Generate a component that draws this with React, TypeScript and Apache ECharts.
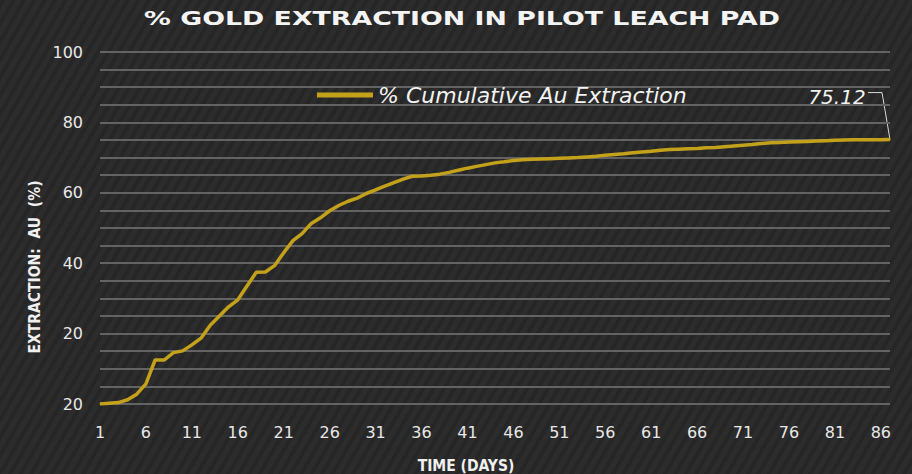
import React, { useEffect, useRef } from "react";
import * as echarts from "echarts";

const titleText = "% GOLD EXTRACTION IN PILOT LEACH PAD";
const seriesName = "% Cumulative Au Extraction";
const yAxisTitle = "EXTRACTION:  AU  (%)";
const xAxisTitle = "TIME (DAYS)";
const endAnnotation = "75.12";

const days: string[] = Array.from({ length: 87 }, (_, i) => String(i + 1));

const extraction: number[] = [
  0, 0.2, 0.4, 1.2, 2.8, 5.7, 12.5, 12.5, 14.6, 15.1,
  16.8, 18.7, 22.4, 25.0, 27.6, 29.6, 33.5, 37.4, 37.5, 39.3,
  43.0, 46.4, 48.4, 51.3, 52.9, 54.9, 56.4, 57.6, 58.5, 59.8,
  60.8, 61.9, 62.9, 63.9, 64.7, 64.8, 65.0, 65.3, 65.8, 66.4,
  67.0, 67.5, 68.0, 68.5, 68.8, 69.2, 69.4, 69.5, 69.6, 69.7,
  69.8, 69.9, 70.0, 70.2, 70.4, 70.7, 70.9, 71.1, 71.4, 71.6,
  71.8, 72.1, 72.3, 72.4, 72.5, 72.6, 72.8, 72.9, 73.1, 73.3,
  73.5, 73.7, 74.0, 74.2, 74.3, 74.4, 74.5, 74.6, 74.7, 74.8,
  74.9, 75.0, 75.05, 75.1, 75.1, 75.1, 75.12,
];

const yTickLabels: string[] = ["20", "20", "40", "60", "80", "100"];

const GOLD = "#c4a11a";
const FONT = "'DejaVu Sans', sans-serif";
const FONT_COND = "'DejaVu Sans Condensed', 'DejaVu Sans', sans-serif";

export default function App() {
  const ref = useRef<HTMLDivElement>(null);
  useEffect(() => {
    document.body.style.margin = "0";
    document.body.style.background = "#2a2a2a";
    if (!ref.current) return;
    const chart = echarts.init(ref.current, undefined, { renderer: "svg" });
    const last = extraction.length - 1;
    const DX = -53;
    const DY = -43;
    const baseGraphics: any[] = [
      {
        id: "title",
        type: "text",
        x: 462,
        y: 18,
        scaleX: 1.41,
        style: {
          text: titleText,
          fill: "#f4f4f4",
          font: `bold 19px ${FONT}`,
          textAlign: "center",
          textVerticalAlign: "middle",
        },
      },
      {
        id: "ytitle",
        type: "text",
        x: 35,
        y: 267,
        rotation: Math.PI / 2,
        style: {
          text: yAxisTitle,
          fill: "#f0f0f0",
          font: `bold 15.5px ${FONT_COND}`,
          textAlign: "center",
          textVerticalAlign: "middle",
        },
      },
      {
        id: "xtitle",
        type: "text",
        x: 466,
        y: 466,
        style: {
          text: xAxisTitle,
          fill: "#f0f0f0",
          font: `bold 15.5px ${FONT_COND}`,
          textAlign: "center",
          textVerticalAlign: "middle",
        },
      },
    ];
    chart.setOption({
      animation: false,
      backgroundColor: "transparent",
      textStyle: { fontFamily: FONT },
      grid: { left: 100, right: 22, top: 52, bottom: 70 },
      legend: {
        data: [seriesName],
        left: 317,
        top: 83,
        padding: 0,
        icon: "rect",
        itemWidth: 56,
        itemHeight: 5,
        itemGap: 4,
        textStyle: {
          color: "#f2f2f2",
          fontSize: 22,
          fontStyle: "italic",
          fontFamily: FONT,
          lineHeight: 24,
        },
      },
      graphic: baseGraphics,
      xAxis: {
        type: "category",
        data: days,
        boundaryGap: false,
        axisLine: { show: false },
        axisTick: { show: false },
        splitLine: { show: false },
        axisLabel: {
          interval: 4,
          color: "#e8e8e8",
          fontSize: 16,
          margin: 20,
          fontFamily: FONT,
        },
      },
      yAxis: {
        type: "value",
        min: 0,
        max: 100,
        interval: 5,
        axisLine: { show: false },
        axisTick: { show: false },
        axisLabel: {
          color: "#e8e8e8",
          fontSize: 16,
          margin: 17,
          fontFamily: FONT,
          formatter: (v: number) => (v % 20 === 0 ? yTickLabels[v / 20] : ""),
        },
        splitLine: { lineStyle: { color: "#636363", width: 2 } },
      },
      series: [
        {
          name: seriesName,
          type: "line",
          data: extraction.map((v, i) =>
            i === last ? { value: v, label: { show: true } } : v
          ),
          symbol: "circle",
          symbolSize: 1,
          showSymbol: true,
          showAllSymbol: true,
          itemStyle: { color: GOLD },
          lineStyle: { color: GOLD, width: 3.5 },
          label: {
            show: false,
            position: "inside",
            formatter: () => endAnnotation,
            color: "#f2f2f2",
            fontSize: 20,
            fontStyle: "italic",
            fontFamily: FONT,
          },
          labelLayout: (p: any) =>
            p.dataIndex === last ? { dx: DX, dy: DY } : {},
        },
      ],
    });
    const pt = chart.convertToPixel({ xAxisIndex: 0, yAxisIndex: 0 }, [
      last,
      extraction[last],
    ]) as number[];
    if (pt && isFinite(pt[0]) && isFinite(pt[1])) {
      const [px, py] = pt;
      chart.setOption({
        graphic: [
          ...baseGraphics,
          {
            id: "leader",
            type: "polyline",
            shape: {
              points: [
                [px - 22, py - 47],
                [px - 8, py - 47],
                [px, py],
              ],
            },
            style: { stroke: "#d8d8d8", lineWidth: 1, fill: "none" },
            silent: true,
          },
        ],
      });
    }
    return () => chart.dispose();
  }, []);
  return (
    <div
      ref={ref}
      style={{
        width: 912,
        height: 474,
        background:
          "repeating-linear-gradient(-60deg, #2c2c2c 0px, #2c2c2c 5px, #262626 5px, #262626 9px)",
      }}
    />
  );
}
